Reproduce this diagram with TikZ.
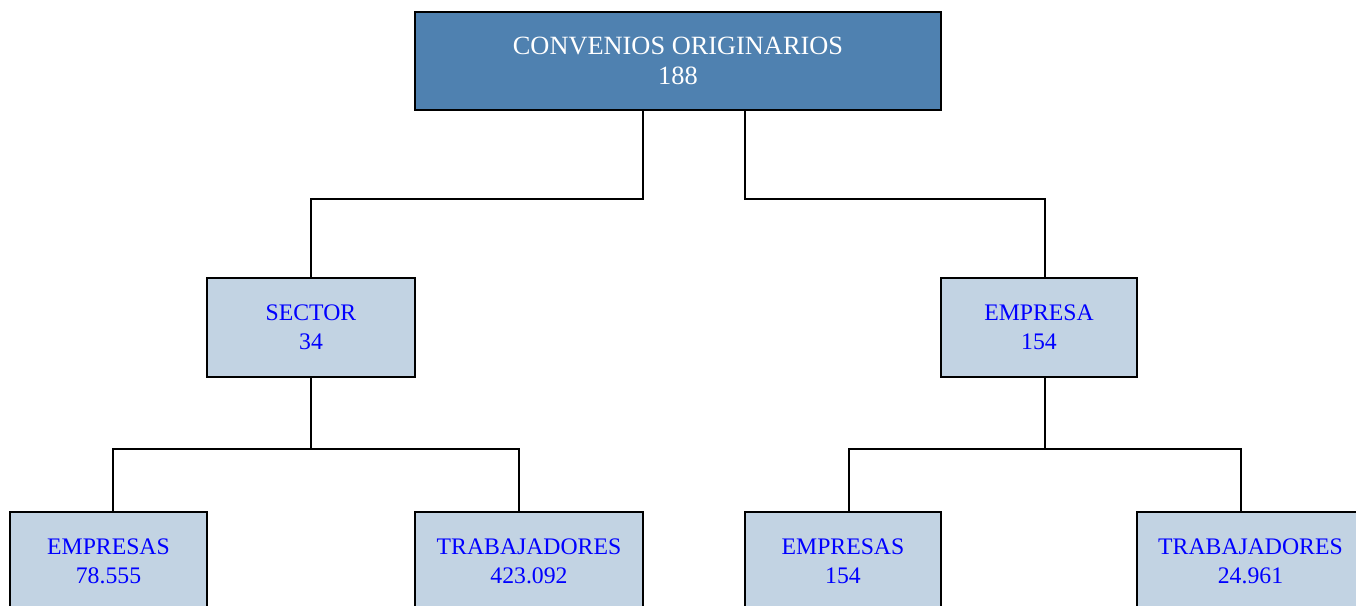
\documentclass[tikz,border=0pt]{standalone}
\usepackage{fontspec}
\setmainfont{Liberation Serif}
\usetikzlibrary{positioning}

\definecolor{topblue}{HTML}{4F81B0}
\definecolor{boxblue}{HTML}{C2D3E3}

\tikzset{
  topbox/.style={draw=black, line width=1.2pt, fill=topblue, text=white, align=center,
    inner sep=0pt, font=\fontsize{15}{17}\selectfont},
  subbox/.style={draw=black, line width=1.2pt, fill=boxblue, text=blue, align=center,
    inner sep=0pt, font=\fontsize{13.5}{16.4}\selectfont},
  link/.style={black, line width=0.9pt}
}

\begin{document}
\begin{tikzpicture}

\useasboundingbox (0,0) rectangle (27.12,-12.12);
\clip (0,0) rectangle (27.12,-12.12);

% top level
\node[topbox, minimum width=10.52cm, minimum height=1.96cm] (conv) at (13.56,-1.22) {CONVENIOS ORIGINARIOS\\188};

% second level
\node[subbox, minimum width=4.16cm, minimum height=1.98cm] (sector) at (6.22,-6.55) {SECTOR\\34};
\node[subbox, minimum width=3.92cm, minimum height=1.98cm] (empresa) at (20.78,-6.55) {EMPRESA\\154};

% third level
\node[subbox, minimum width=3.94cm, minimum height=1.96cm] (empS) at (2.17,-11.22) {EMPRESAS\\78.555};
\node[subbox, minimum width=4.56cm, minimum height=1.96cm] (trabS) at (10.58,-11.22) {TRABAJADORES\\423.092};
\node[subbox, minimum width=3.92cm, minimum height=1.96cm] (empE) at (16.86,-11.22) {EMPRESAS\\154};
\node[subbox, minimum width=4.54cm, minimum height=1.96cm] (trabE) at (25.01,-11.22) {TRABAJADORES\\24.961};

% connectors
\draw[link] ([xshift=-0.70cm]conv.south) -- ++(0,-1.76) -| (sector.north);
\draw[link] ([xshift=1.34cm]conv.south) -- ++(0,-1.76) -| ([xshift=0.12cm]empresa.north);

\draw[link] (sector.south) -- ++(0,-1.42) -| ([xshift=0.09cm]empS.north);
\draw[link] (sector.south) ++(0,-1.42) -| ([xshift=-0.20cm]trabS.north);

\draw[link] ([xshift=0.12cm]empresa.south) -- ++(0,-1.42) -| ([xshift=0.12cm]empE.north);
\draw[link] ([xshift=0.12cm]empresa.south) ++(0,-1.42) -| ([xshift=-0.19cm]trabE.north);

\end{tikzpicture}
\end{document}
